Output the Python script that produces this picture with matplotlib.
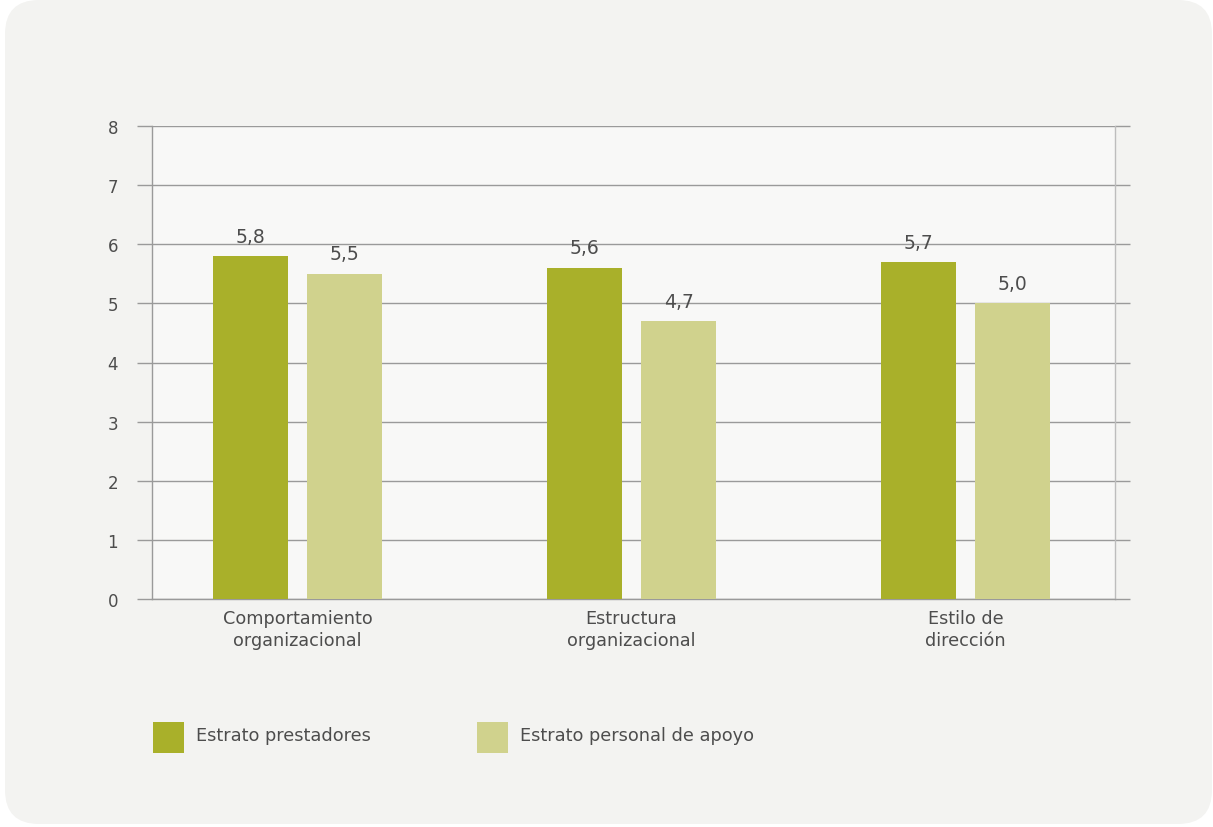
import matplotlib
matplotlib.use("Agg")
import matplotlib.pyplot as plt
from matplotlib.patches import FancyBboxPatch, Rectangle
import numpy as np

categories = ["Comportamiento\norganizacional", "Estructura\norganizacional", "Estilo de\ndirección"]
series_names = ["Estrato prestadores", "Estrato personal de apoyo"]
prestadores = [5.8, 5.6, 5.7]
apoyo = [5.5, 4.7, 5.0]
yticks = [0, 1, 2, 3, 4, 5, 6, 7, 8]

c_dark = "#a9b02a"
c_light = "#d0d28d"
txt = "#4d4d4d"
gridc = "#9a9a9a"

plt.rcParams['font.family'] = ['DejaVu Sans']

W, H = 1213, 828
fig = plt.figure(figsize=(W / 100, H / 100), dpi=100)
fig.patch.set_facecolor("white")

# rounded background panel
panel = FancyBboxPatch((5 / W, 3 / H), (W - 6) / W, (H - 4) / H,
                       boxstyle="round,pad=0,rounding_size=0.028",
                       transform=fig.transFigure, facecolor="#f3f3f1",
                       edgecolor="none", mutation_aspect=W / H, zorder=-5)
fig.patches.append(panel)

ax = fig.add_axes([152 / W, 228 / H, 963 / W, 473 / H])
ax.set_zorder(2)
ax.set_facecolor("#f8f8f7")

x = np.arange(len(categories))
w = 0.225
off = 0.141
b1 = ax.bar(x - off, prestadores, w, color=c_dark, zorder=3)
b2 = ax.bar(x + off, apoyo, w, color=c_light, zorder=3)

for bars, vals in ((b1, prestadores), (b2, apoyo)):
    for r, v in zip(bars, vals):
        ax.annotate(f"{v:.1f}".replace(".", ","),
                    (r.get_x() + r.get_width() / 2, v),
                    xytext=(0, 7.5), textcoords="offset points",
                    ha="center", va="bottom", fontsize=13.5, color=txt)

ax.set_xlim(-0.436, 2.448)
ax.set_ylim(0, 8)
ax.set_yticks(yticks)
ax.set_yticklabels([str(t) for t in yticks])
ax.yaxis.grid(True, color=gridc, linewidth=1, zorder=1)
ax.set_axisbelow(True)
ax.tick_params(axis="y", which="both", direction="out", length=11, width=1,
               color=gridc, labelsize=12, labelcolor=txt, pad=13.5,
               left=True, right=True, labelright=False)
ax.set_xticks(x)
ax.set_xticklabels(categories, fontsize=12.7, color=txt, linespacing=1.3)
ax.tick_params(axis="x", length=0, pad=7)

for s in ("left", "right", "bottom", "top"):
    ax.spines[s].set_color(gridc)
    ax.spines[s].set_linewidth(1)
ax.spines["right"].set_color("#bdbdbd")
ax.spines["top"].set_visible(False)

# legend
for i, (name, col) in enumerate(zip(series_names, [c_dark, c_light])):
    x0 = [153, 477][i]
    fig.patches.append(Rectangle((x0 / W, (H - 754) / H), 31 / W, 31 / H,
                                 transform=fig.transFigure, facecolor=col,
                                 edgecolor="none", zorder=1))
    fig.text((x0 + 43) / W, (H - 736) / H, name, fontsize=12.8, color=txt,
             va="center", ha="left")

fig.savefig("out.png", dpi=100, facecolor=fig.get_facecolor())
